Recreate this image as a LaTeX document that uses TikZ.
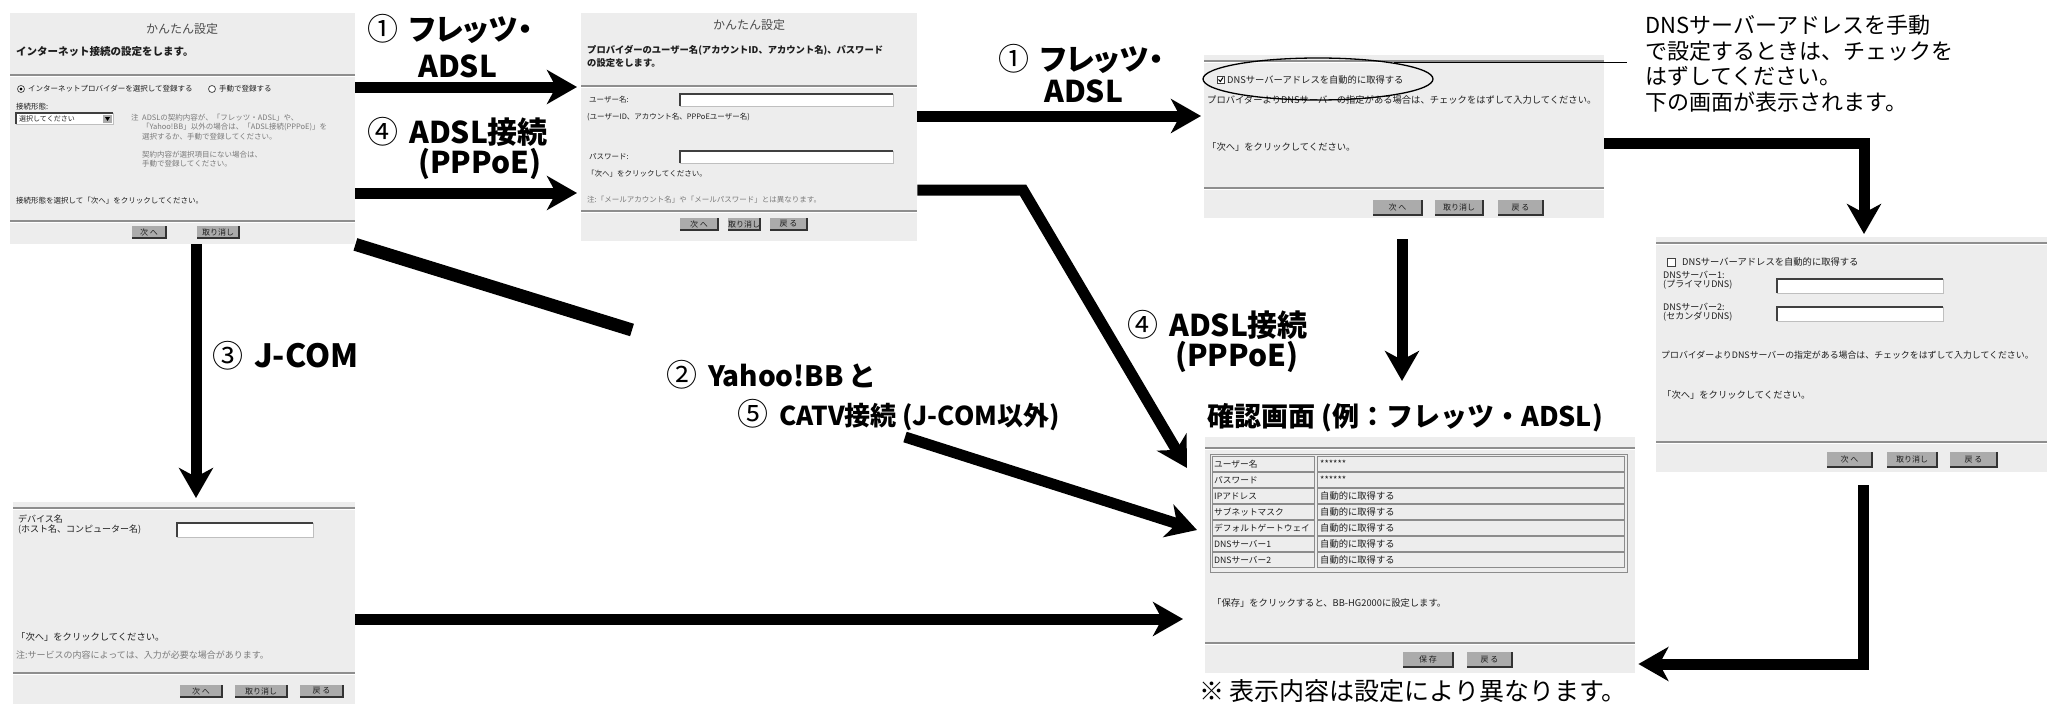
\documentclass[tikz,border=0pt]{standalone}
\usepackage{fontspec}
\setmainfont{Noto Sans CJK JP}
\newfontfamily\labfont[RawFeature=+palt]{Noto Sans CJK JP}
\usetikzlibrary{arrows.meta,shapes.geometric}
\definecolor{panelbg}{HTML}{EDEDED}
\definecolor{rulegray}{HTML}{8E8E8E}
\definecolor{btnfill}{HTML}{ABABAB}
\definecolor{scrtext}{HTML}{1E1E1E}
\definecolor{notegray}{HTML}{7A7A7A}
\newcommand\mkfs[1]{\fontsize{#1}{#1}\selectfont}
\newcommand\mkcirc[1]{{\mdseries\fontsize{31}{31}\selectfont #1}\hspace{11pt}}
\newcommand\mkrule[3]{\draw[rulegray,line width=1.4pt] (#1,#3) -- (#2,#3); \draw[white,line width=1pt] (#1,#3+1.3) -- (#2,#3+1.3);}
\newcommand\mkinput[4]{\fill[white] (#1,#2) rectangle (#3,#4); \draw[black!25,line width=0.8pt] (#3,#2) -- (#3,#4) -- (#1,#4); \draw[black!75,line width=1.4pt] (#1,#4) -- (#1,#2) -- (#3,#2);}
\newcommand\mkbtn[6]{\fill[btnfill] (#2,#3) rectangle (#4,#5); \draw[black!80,line width=1.3pt] (#4,#3) -- (#4,#5) -- (#2,#5); \node[btntxt] (#1) at ({(#2+#4)/2},{(#3+#5)/2}) {#6};}
\tikzset{
  panel/.style={fill=panelbg, draw=none, inner sep=0pt, anchor=north west},
  tx/.style={anchor=west, inner sep=0pt, text=scrtext, font=\mkfs{8}},
  txg/.style={tx, text=notegray},
  btntxt/.style={inner sep=0pt, text=scrtext, font=\mkfs{8}},
  lbl/.style={anchor=west, inner sep=0pt, font=\labfont\bfseries\mkfs{30}},
  bigarrow/.style={draw=black, line width=11pt, -{Stealth[length=30pt, width=34pt, inset=9pt]}},
  cellbox/.style={draw=black!45, fill=panelbg, line width=0.8pt}
}
\begin{document}
\begin{tikzpicture}[x=1pt,y=-1pt]
\useasboundingbox (0,0) rectangle (2047,704);
\fill[white] (0,0) rectangle (2047,704);

% ---------- panels ----------
\node[panel, minimum width=345pt, minimum height=231pt] (p1) at (10,13) {};
\node[panel, minimum width=336pt, minimum height=228pt] (p2) at (581,13) {};
\node[panel, minimum width=400pt, minimum height=163pt] (p3) at (1204,55) {};
\node[panel, minimum width=391pt, minimum height=235pt] (p4) at (1656,237) {};
\node[panel, minimum width=430pt, minimum height=236pt] (p5) at (1205,437) {};
\node[panel, minimum width=342pt, minimum height=202pt] (p6) at (13,502) {};

% ---------- panel 1 ----------
\node[tx, anchor=center, text=black!70, font=\mkfs{12}] (t1) at (182,29) {かんたん設定};
\node[tx, font=\bfseries\mkfs{10.5}] (h1) at (16,52) {インターネット接続の設定をします。};
\mkrule{10}{355}{75}
\draw[fill=white, draw=black!70, line width=0.8pt] (21,89) circle (3.5);
\fill[black] (21,89) circle (1.6);
\draw[fill=white, draw=black!70, line width=0.8pt] (212,89) circle (3.5);
\node[tx, font=\mkfs{7.5}] (r1t) at (28,89) {インターネットプロバイダーを選択して登録する};
\node[tx, font=\mkfs{7.5}] (r2t) at (219,89) {手動で登録する};
\node[tx, font=\mkfs{7.5}] (kt) at (16,107) {接続形態:};
\mkinput{16}{113}{113}{124}
\fill[btnfill] (103,114.5) rectangle (112,123);
\fill[black] (105,117) -- (110,117) -- (107.5,121) -- cycle;
\node[tx, font=\mkfs{7}] (dd) at (19,118.5) {選択してください};
\node[txg, font=\mkfs{7.5}] (n0) at (131,118) {注};
\node[txg, font=\mkfs{7.5}] (n1) at (142,118) {ADSLの契約内容が、「フレッツ・ADSL」や、};
\node[txg, font=\mkfs{7.5}] (n2) at (142,127.5) {「Yahoo!BB」以外の場合は、「ADSL接続(PPPoE)」を};
\node[txg, font=\mkfs{7.5}] (n3) at (142,137) {選択するか、手動で登録してください。};
\node[txg, font=\mkfs{7.5}] (n4) at (142,155) {契約内容が選択項目にない場合は、};
\node[txg, font=\mkfs{7.5}] (n5) at (142,164) {手動で登録してください。};
\node[tx, font=\mkfs{7.5}] (c1) at (16,201) {接続形態を選択して「次へ」をクリックしてください。};
\mkrule{10}{355}{221}
\mkbtn{p1b1}{132}{226}{166}{238}{次 へ}
\mkbtn{p1b2}{197}{226}{239}{238}{取り消し}

% ---------- panel 2 ----------
\node[tx, anchor=center, text=black!70, font=\mkfs{12}] (t2) at (749,25) {かんたん設定};
\node[tx, font=\bfseries\mkfs{9.3}] (h2a) at (587,50) {プロバイダーのユーザー名(アカウントID、アカウント名)、パスワード};
\node[tx, font=\bfseries\mkfs{9.3}] (h2b) at (587,63) {の設定をします。};
\mkrule{581}{917}{86}
\node[tx, font=\mkfs{7.5}] (u2) at (589,100) {ユーザー名:};
\mkinput{680}{94}{893}{106}
\node[tx, font=\mkfs{7.5}] (u2n) at (587,117) {(ユーザーID、アカウント名、PPPoEユーザー名)};
\node[tx, font=\mkfs{7.5}] (pw2) at (589,157) {パスワード:};
\mkinput{680}{151}{893}{163}
\node[tx, font=\mkfs{7.5}] (c2) at (587,174) {「次へ」をクリックしてください。};
\node[txg, font=\mkfs{7.5}] (g2) at (587,200) {注:「メールアカウント名」や「メールパスワード」とは異なります。};
\mkrule{581}{917}{211}
\mkbtn{p2b1}{680}{218}{718}{230}{次 へ}
\mkbtn{p2b2}{728}{218}{760}{230}{取り消し}
\mkbtn{p2b3}{770}{218}{807}{230}{戻 る}

% ---------- panel 3 ----------
\mkrule{1204}{1604}{61}
\draw[fill=white, draw=black!75, line width=0.8pt] (1217,76) rectangle (1224,83);
\draw[line width=1pt] (1218.5,79.5) -- (1220.3,81.5) -- (1223,77.5);
\node[tx, font=\mkfs{9.3}] (ck3) at (1227,80) {DNSサーバーアドレスを自動的に取得する};
\node[tx, font=\mkfs{9.3}] (l3) at (1207,100) {プロバイダーよりDNSサーバーの指定がある場合は、チェックをはずして入力してください。};
\node[tx, font=\mkfs{9.3}] (c3) at (1207,147) {「次へ」をクリックしてください。};
\mkrule{1204}{1604}{188}
\mkbtn{p3b1}{1373}{200}{1422}{215}{次 へ}
\mkbtn{p3b2}{1435}{200}{1483}{215}{取り消し}
\mkbtn{p3b3}{1498}{200}{1543}{215}{戻 る}
\node[draw, ellipse, line width=1.3pt, minimum width=230pt, minimum height=42pt, inner sep=0pt] (ell) at (1318,79) {};
\coordinate (leadend) at (1627,0);
\draw[line width=1.2pt] (ell.12) -- (ell.12 -| leadend);

% ---------- panel 4 ----------
\mkrule{1656}{2047}{243}
\draw[fill=white, draw=black!75, line width=0.8pt] (1667,258) rectangle (1675,266);
\node[tx, font=\mkfs{9.3}] (ck4) at (1682,262) {DNSサーバーアドレスを自動的に取得する};
\node[tx, font=\mkfs{9}] (d1a) at (1663,275) {DNSサーバー1:};
\node[tx, font=\mkfs{9}] (d1b) at (1663,285) {(プライマリDNS)};
\mkinput{1777}{279}{1943}{293}
\node[tx, font=\mkfs{9}] (d2a) at (1663,307) {DNSサーバー2:};
\node[tx, font=\mkfs{9}] (d2b) at (1663,317) {(セカンダリDNS)};
\mkinput{1777}{307}{1943}{321}
\node[tx, font=\mkfs{8.9}] (l4) at (1661,355) {プロバイダーよりDNSサーバーの指定がある場合は、チェックをはずして入力してください。};
\node[tx, font=\mkfs{9.3}] (c4) at (1662,395) {「次へ」をクリックしてください。};
\mkrule{1656}{2047}{442}
\mkbtn{p4b1}{1827}{452}{1872}{467}{次 へ}
\mkbtn{p4b2}{1887}{452}{1937}{467}{取り消し}
\mkbtn{p4b3}{1950}{452}{1997}{467}{戻 る}

% ---------- panel 5 ----------
\node[anchor=west, inner sep=0pt, font=\bfseries\mkfs{27}] (ttl) at (1207,418) {確認画面 (例：フレッツ・ADSL)};
\mkrule{1205}{1635}{448}
\draw[black!45, line width=0.8pt] (1210,454) rectangle (1627,572);
\foreach \lab/\val [count=\i from 0] in {ユーザー名/******, パスワード/******, IPアドレス/自動的に取得する, サブネットマスク/自動的に取得する, デフォルトゲートウェイ/自動的に取得する, DNSサーバー1/自動的に取得する, DNSサーバー2/自動的に取得する}{
  \pgfmathsetmacro\yt{456.5+\i*16}
  \draw[cellbox] (1212,\yt) rectangle (1314,\yt+14.5);
  \draw[cellbox] (1317,\yt) rectangle (1624,\yt+14.5);
  \node[tx, font=\mkfs{8.7}] (lab\i) at (1214,\yt+7.5) {\lab};
  \node[tx, font=\mkfs{9.3}] (val\i) at (1320,\yt+7.5) {\val};
}
\node[tx, font=\mkfs{9.3}] (c5) at (1212,603) {「保存」をクリックすると、BB-HG2000に設定します。};
\mkrule{1205}{1635}{643}
\mkbtn{p5b1}{1403}{652}{1453}{667}{保 存}
\mkbtn{p5b2}{1467}{652}{1512}{667}{戻 る}
\node[anchor=west, inner sep=0pt, font=\mkfs{25}] (foot) at (1199,691) {※ 表示内容は設定により異なります。};

% ---------- panel 6 ----------
\mkrule{13}{355}{508}
\node[tx, font=\mkfs{9}] (dv1) at (18,519) {デバイス名};
\node[tx, font=\mkfs{9}] (dv2) at (18,530) {(ホスト名、コンピューター名)};
\mkinput{177}{523}{313}{537}
\node[tx, font=\mkfs{9.3}] (c6) at (16,637) {「次へ」をクリックしてください。};
\node[txg, font=\mkfs{9}] (g6) at (16,655) {注:サービスの内容によっては、入力が必要な場合があります。};
\mkrule{13}{355}{673}
\mkbtn{p6b1}{180}{685}{222}{697}{次 へ}
\mkbtn{p6b2}{235}{685}{287}{697}{取り消し}
\mkbtn{p6b3}{300}{685}{343}{697}{戻 る}

% ---------- note ----------
\node[anchor=north west, inner sep=0pt, align=left, font=\fontsize{22}{25.5}\selectfont] (note) at (1645,15)
  {DNSサーバーアドレスを手動\\で設定するときは、チェックを\\はずしてください。\\下の画面が表示されます。};

% ---------- arrows ----------
\draw[bigarrow, shorten >=4pt] (p1.east |- 0,87) -- (p2.west |- 0,87);
\draw[bigarrow, shorten >=4pt] (p1.east |- 0,193) -- (p2.west |- 0,193);
\draw[bigarrow, shorten >=3pt] (p2.east |- 0,116) -- (p3.west |- 0,116);
\coordinate (a4c) at (1023,190);
\coordinate (a4t) at (1187,468);
\draw[bigarrow] (p2.east |- a4c) -- (a4c) -- (a4t);
\coordinate (a5s) at (1402,239);
\coordinate (a5t) at (1402,381);
\draw[bigarrow] (a5s) -- (a5t);
\coordinate (a6c) at (1864,143);
\draw[bigarrow, shorten >=3pt] (p3.east |- a6c) -- (a6c) -- (a6c |- p4.north);
\coordinate (a7s) at (1863,485);
\coordinate (a7c) at (1863,664);
\draw[bigarrow, shorten >=3pt] (a7s) -- (a7c) -- (p5.east |- a7c);
\coordinate (a8s) at (196,244);
\draw[bigarrow, shorten >=4pt] (a8s) -- (a8s |- p6.north);
\coordinate (a9e) at (632,330);
\draw[line width=13pt] (p1.south east) -- (a9e);
\coordinate (a9s) at (905,437);
\coordinate (a9t) at (1197,530);
\draw[bigarrow] (a9s) -- (a9t);
\draw[bigarrow, shorten >=22pt] (p6.east |- 0,619) -- (p5.west |- 0,619);

% ---------- labels ----------
\node[lbl] (l1a) at (367,29) {\mkcirc{①}フレッツ・};
\node[lbl] (l1b) at (418,66) {ADSL};
\node[lbl] (l2a) at (367,132) {\mkcirc{④}ADSL接続};
\node[lbl] (l2b) at (418,164) {(PPPoE)};
\node[lbl] (l3a) at (998,59) {\mkcirc{①}フレッツ・};
\node[lbl] (l3b) at (1044,91) {ADSL};
\node[lbl] (l4a) at (1127,325) {\mkcirc{④}ADSL接続};
\node[lbl] (l4b) at (1175,357) {(PPPoE)};
\node[lbl, font=\labfont\bfseries\mkfs{32}] (l5) at (212,356) {\mkcirc{③}J-COM};
\node[lbl, font=\labfont\bfseries\mkfs{28}] (l6) at (666,375) {\mkcirc{②}Yahoo!BB と};
\node[lbl, font=\labfont\bfseries\mkfs{26}] (l7) at (737,415) {\mkcirc{⑤}CATV接続 (J-COM以外)};
\end{tikzpicture}
\end{document}
